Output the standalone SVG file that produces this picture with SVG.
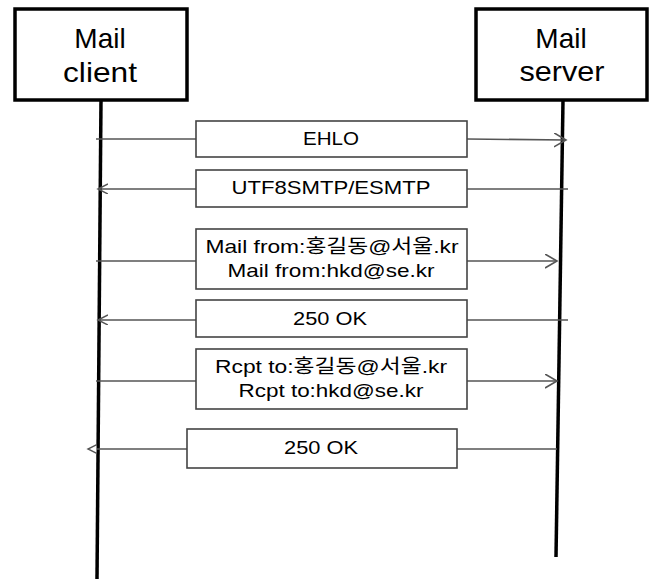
<svg xmlns="http://www.w3.org/2000/svg" width="652" height="579" viewBox="0 0 652 579">
<style>
.actor{fill:#fff;stroke:#000;stroke-width:3.5}
.life{stroke:#000;stroke-width:3.5;fill:none}
.title{font-family:"Comic Sans MS","Liberation Sans","Noto Sans CJK KR",sans-serif;font-size:28px;fill:#000;text-anchor:middle}
.msg{fill:#fff;stroke:#444;stroke-width:1.6}
.lbl{font-family:"Comic Sans MS","Liberation Sans","Noto Sans CJK KR",sans-serif;font-size:19px;fill:#000;text-anchor:middle}
.wire{stroke:#555;stroke-width:1.6;fill:none}
</style>
<defs>
<marker id="open" markerUnits="userSpaceOnUse" markerWidth="14" markerHeight="16" refX="12" refY="7" orient="auto">
<path d="M0,0 L12,7 L0,14" fill="none" stroke="#555" stroke-width="1.6"/>
</marker>
<marker id="openS" markerUnits="userSpaceOnUse" markerWidth="12" markerHeight="12" refX="10" refY="5" orient="auto">
<path d="M0,0 L10,5 L0,10" fill="none" stroke="#555" stroke-width="1.5"/>
</marker>
<marker id="tri" markerUnits="userSpaceOnUse" markerWidth="12" markerHeight="12" refX="9" refY="4.5" orient="auto">
<path d="M0,0 L9,4.5 L0,9 Z" fill="#fff" stroke="#555" stroke-width="1.4"/>
</marker>
</defs>
<g id="client">
<rect class="actor" x="15" y="9" width="172" height="91"/>
<text class="title" x="100" y="48">Mail</text>
<text class="title" x="100" y="82" textLength="74" lengthAdjust="spacingAndGlyphs">client</text>
<path class="life" d="M101,100 L97,579"/>
</g>
<g id="server">
<rect class="actor" x="476" y="9" width="171" height="91"/>
<text class="title" x="561" y="48">Mail</text>
<text class="title" x="562" y="81" textLength="85" lengthAdjust="spacingAndGlyphs">server</text>
<path class="life" d="M563,100 L556,557"/>
</g>
<g id="connectors">
<line class="wire" x1="96" y1="139" x2="196" y2="139"/>
<line class="wire" x1="467" y1="139" x2="566" y2="140" marker-end="url(#open)"/>
<line class="wire" x1="196" y1="189" x2="98" y2="189" marker-end="url(#openS)"/>
<line class="wire" x1="467" y1="189" x2="568" y2="189"/>
<line class="wire" x1="96" y1="261" x2="196" y2="261"/>
<line class="wire" x1="467" y1="261" x2="557" y2="261" marker-end="url(#open)"/>
<line class="wire" x1="196" y1="320" x2="98" y2="320" marker-end="url(#openS)"/>
<line class="wire" x1="467" y1="320" x2="568" y2="320"/>
<line class="wire" x1="96" y1="381" x2="196" y2="381"/>
<line class="wire" x1="467" y1="381" x2="557" y2="381" marker-end="url(#open)"/>
<line class="wire" x1="187" y1="449" x2="88" y2="449" marker-end="url(#tri)"/>
<line class="wire" x1="457" y1="449" x2="557" y2="449"/>
</g>
<g id="m1">
<rect class="msg" x="196" y="121" width="271" height="36"/>
<text class="lbl" x="331" y="145" textLength="56" lengthAdjust="spacingAndGlyphs">EHLO</text>
</g>
<g id="m2">
<rect class="msg" x="196" y="170" width="271" height="37"/>
<text class="lbl" x="331" y="194" textLength="199" lengthAdjust="spacingAndGlyphs">UTF8SMTP/ESMTP</text>
</g>
<g id="m3">
<rect class="msg" x="196" y="229" width="271" height="60"/>
<text class="lbl" x="332" y="253" textLength="253" lengthAdjust="spacingAndGlyphs">Mail from:홍길동@서울.kr</text>
<text class="lbl" x="331" y="277" textLength="207" lengthAdjust="spacingAndGlyphs">Mail from:hkd@se.kr</text>
</g>
<g id="m4">
<rect class="msg" x="196" y="300" width="271" height="37"/>
<text class="lbl" x="330" y="325" textLength="74" lengthAdjust="spacingAndGlyphs">250 OK</text>
</g>
<g id="m5">
<rect class="msg" x="196" y="349" width="271" height="60"/>
<text class="lbl" x="331" y="373" textLength="232" lengthAdjust="spacingAndGlyphs">Rcpt to:홍길동@서울.kr</text>
<text class="lbl" x="331" y="397" textLength="185" lengthAdjust="spacingAndGlyphs">Rcpt to:hkd@se.kr</text>
</g>
<g id="m6">
<rect class="msg" x="187" y="429" width="270" height="39"/>
<text class="lbl" x="321" y="454" textLength="74" lengthAdjust="spacingAndGlyphs">250 OK</text>
</g>
</svg>
